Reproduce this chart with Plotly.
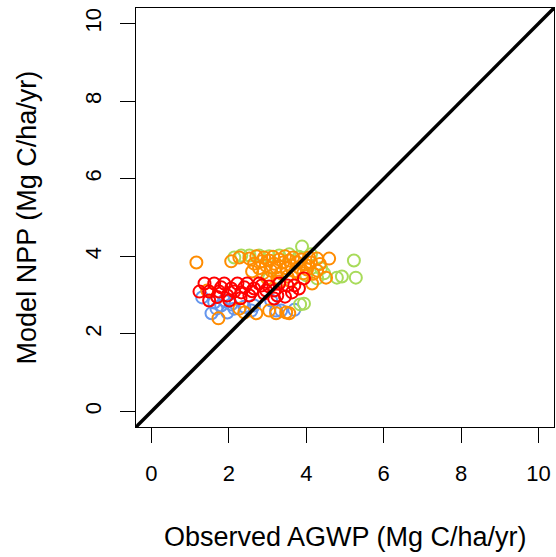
import plotly.graph_objects as go

# Observed AGWP (x) vs Model NPP (y), Mg C/ha/yr
blue_x = [1.31, 1.55, 1.68, 1.80, 1.96, 2.14, 1.62, 2.65, 2.58, 3.22, 3.35, 1.88, 2.06, 2.40, 3.09, 3.69]
blue_y = [2.94, 2.53, 2.65, 2.73, 2.55, 2.65, 2.81, 2.73, 2.60, 2.60, 2.60, 2.86, 2.76, 2.70, 2.86, 2.62]

green_x = [2.14, 2.32, 2.53, 2.78, 3.04, 3.30, 3.56, 3.81, 3.89, 4.12, 5.23, 4.79, 5.28, 4.46, 4.38, 4.00,
           3.94, 3.84, 3.04, 4.28, 4.92]
green_y = [3.97, 4.02, 4.02, 4.02, 4.00, 4.02, 4.05, 3.99, 4.25, 4.05, 3.89, 3.45, 3.45, 3.56, 3.69, 3.51,
           2.78, 2.76, 3.43, 3.43, 3.48]

orange_x = [1.16, 1.44, 1.73, 2.06, 2.27, 2.40, 2.71, 3.04, 3.22, 3.48, 3.56, 2.27, 4.28, 4.59, 4.28, 4.51,
            4.15, 2.53, 2.65, 2.71, 2.78, 2.84, 2.91, 2.96, 3.04, 3.09, 3.14, 3.17, 3.22, 3.30, 3.35,
            3.40, 3.45, 3.48, 3.51, 3.56, 3.61, 3.66, 3.71, 3.76, 3.81, 3.87, 3.92, 3.97, 4.02, 4.07,
            4.12, 2.88, 2.99, 3.25, 2.60, 3.30, 3.60, 4.18, 4.35]
orange_y = [3.84, 3.12, 2.40, 3.87, 3.97, 2.55, 2.53, 2.60, 2.53, 2.55, 2.53, 2.65, 3.94, 3.94, 3.63, 3.45,
            3.30, 3.94, 3.81, 4.00, 3.69, 3.87, 3.97, 3.76, 3.89, 3.63, 3.99, 3.81, 3.71, 3.92, 3.56,
            3.84, 4.00, 3.69, 3.48, 3.89, 3.76, 3.97, 3.61, 3.84, 3.71, 3.92, 3.56, 3.79, 3.66, 3.97,
            3.84, 3.56, 3.43, 3.45, 3.61, 3.35, 3.35, 3.55, 3.80]

red_x = [1.24, 1.37, 1.49, 1.62, 1.75, 1.88, 1.96, 2.06, 2.22, 2.32, 2.47, 2.53, 2.65, 2.78, 2.91, 3.04,
         3.17, 3.30, 3.45, 3.63, 3.81, 3.94, 3.69, 3.17, 2.01, 1.49, 2.40, 2.14, 1.80, 2.60, 3.51, 3.25, 2.96,
         1.70, 2.30, 2.85]
red_y = [3.09, 3.30, 3.09, 3.30, 3.09, 3.30, 2.99, 3.17, 3.30, 3.07, 3.30, 2.99, 3.17, 3.30, 3.04, 3.22,
         3.12, 3.30, 2.96, 3.07, 3.17, 3.43, 3.25, 2.91, 2.86, 2.86, 3.20, 3.09, 3.20, 3.10, 3.25, 2.99, 3.12,
         2.95, 2.92, 3.25]

one_to_one = [-0.4, 10.4]
tick_vals = [0, 2, 4, 6, 8, 10]

FONT = "Liberation Sans, Arial, Helvetica, sans-serif"

fig = go.Figure()

def add_series(xs, ys, color):
    fig.add_trace(go.Scatter(
        x=xs, y=ys, mode="markers",
        marker=dict(symbol="circle-open", size=12, color=color, line=dict(width=2, color=color)),
        showlegend=False, hoverinfo="skip"))

add_series(blue_x, blue_y, "#6495ED")
add_series(green_x, green_y, "#A8DB5A")
add_series(orange_x, orange_y, "#FF8C00")
add_series(red_x, red_y, "#FF0000")

fig.add_trace(go.Scatter(x=one_to_one, y=one_to_one, mode="lines",
                         line=dict(color="black", width=3.5), showlegend=False, hoverinfo="skip"))

axis_common = dict(
    range=[-0.4, 10.4], tickvals=tick_vals, ticktext=[str(v) for v in tick_vals],
    showgrid=False, zeroline=False, showline=True, mirror=True, linecolor="black", linewidth=1,
    ticks="outside", ticklen=15, tickwidth=1, tickcolor="black",
    tickfont=dict(family=FONT, size=22, color="black"),
)

fig.update_layout(
    width=556, height=557,
    margin=dict(l=136, r=2, t=8, b=130),
    plot_bgcolor="white", paper_bgcolor="white",
    xaxis=dict(**axis_common, ticklabelstandoff=12),
    yaxis=dict(**axis_common, tickangle=-90, ticklabelstandoff=10),
    annotations=[
        dict(text="Observed AGWP (Mg C/ha/yr)", xref="paper", yref="paper", x=0.5, y=-0.2625,
             xanchor="center", yanchor="middle", showarrow=False,
             font=dict(family=FONT, size=27, color="black")),
        dict(text="Model NPP (Mg C/ha/yr)", xref="paper", yref="paper", x=-0.261, y=0.5,
             xanchor="center", yanchor="middle", showarrow=False, textangle=-90,
             font=dict(family=FONT, size=27, color="black")),
    ],
)

fig.write_html("out.html")
